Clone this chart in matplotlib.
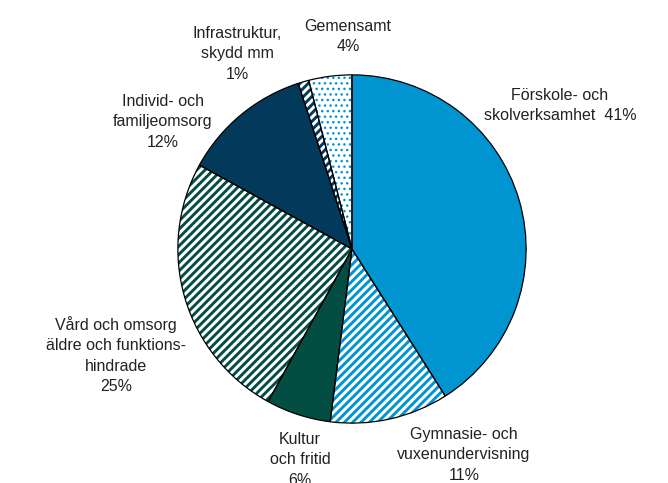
import matplotlib
matplotlib.use("Agg")
import matplotlib.pyplot as plt
from matplotlib.patches import Wedge

plt.rcParams['font.family'] = ['Liberation Sans', 'DejaVu Sans']
plt.rcParams['hatch.linewidth'] = 2.1

categories = ["Förskole- och\nskolverksamhet  41%", "Gymnasie- och\nvuxenundervisning\n11%",
              "Kultur\noch fritid\n6%", "Vård och omsorg\näldre och funktions-\nhindrade\n25%",
              "Individ- och\nfamiljeomsorg\n12%", "Infrastruktur,\nskydd mm\n1%", "Gemensamt\n4%"]
values = [41, 11, 6, 25, 12, 1, 4]
facecolors = ["#0094D1", "white", "#034D42", "white", "#033A5C", "white", "white"]
hatchcolors = ["#0094D1", "#0094D1", "#034D42", "#034D42", "#033A5C", "#033A5C", "#0094D1"]
hatches = [None, "////", None, "////", None, "////", "..."]

W, H = 668, 483
fig = plt.figure(figsize=(W / 100, H / 100), dpi=100)
cx, cy, r = 352, 249, 175
ax = fig.add_axes([(cx - r) / W, (H - cy - r) / H, 2 * r / W, 2 * r / H])

wedges, _ = ax.pie(values, colors=facecolors, startangle=90, counterclock=False,
                   radius=1, wedgeprops=dict(linewidth=0))
for w, h, hc in zip(wedges, hatches, hatchcolors):
    if h and h.startswith('/'):
        w.set_hatch(h)
        w.set_edgecolor(hc)
        w.set_linewidth(0)
    elif h:
        with plt.rc_context({'hatch.linewidth': 1.0}):
            dw = Wedge(w.center, w.r, w.theta1, w.theta2, facecolor='none',
                       edgecolor=hc, hatch=h, linewidth=0)
        ax.add_patch(dw)
outline, _ = ax.pie(values, startangle=90, counterclock=False, radius=1,
                    wedgeprops=dict(fill=False, edgecolor='black', linewidth=0.9))
ax.set_aspect('auto')
ax.set_xlim(-1.005, 1.005)
ax.set_ylim(-1.005, 1.005)
ax.axis('off')

# label positions (pixel top of first line)
label_pos = [(560, 88), (464, 427), (300, 432), (116, 316), (163, 94), (237, 26), (348, 19)]
for txt, (x, y) in zip(categories, label_pos):
    fig.text(x / W, 1 - y / H, txt, ha='center', va='top', fontsize=11.5,
             color='#222222', linespacing=1.45)

fig.savefig("out.png", dpi=100)
